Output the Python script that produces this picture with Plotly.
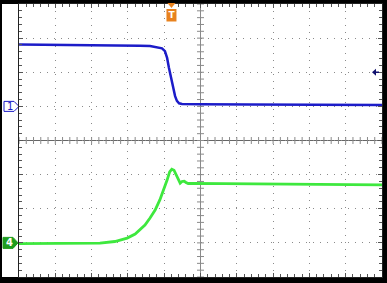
import plotly.graph_objects as go

# ---- data (time and amplitude in screen divisions) ----
ch1_t = [-5.0, -3.87, -2.77, -1.67, -1.39, -1.20, -1.06, -0.98, -0.92, -0.87, -0.81,
         -0.76, -0.70, -0.65, -0.59, -0.51, 0.0, 1.36, 2.74, 4.12, 5.0]
ch1_v = [2.815, 2.81, 2.79, 2.78, 2.77, 2.74, 2.70, 2.62, 2.42, 2.13, 1.83,
         1.54, 1.30, 1.16, 1.09, 1.07, 1.06, 1.056, 1.053, 1.047, 1.04]

ch4_t = [-5.0, -3.87, -2.77, -2.36, -2.02, -1.80, -1.67, -1.53, -1.39, -1.25, -1.12,
         -1.01, -0.92, -0.85, -0.79, -0.73, -0.67, -0.62, -0.56, -0.51, -0.45,
         -0.40, -0.34, -0.23, 0.54, 1.64, 2.74, 3.84, 5.0]
ch4_v = [-3.02, -3.02, -3.01, -2.96, -2.86, -2.74, -2.62, -2.48, -2.27, -2.04, -1.74,
         -1.45, -1.16, -0.92, -0.84, -0.87, -1.01, -1.16, -1.25, -1.20, -1.19,
         -1.23, -1.26, -1.255, -1.26, -1.27, -1.28, -1.29, -1.30]

ch1_ground = 1.0
ch4_ground = -3.0
trigger_t = -0.8
trigger_level = 2.0
marker_labels = ["1", "4"]
trigger_label = "T"

BLUE = "#1c1cc8"
GREEN = "#3ee83e"
GRID = "#8a8a8a"
ORANGE = "#e8821e"

W, H = 387, 283
L, R, T, B = 19, 5, 4, 6
PW, PH = W - L - R, H - T - B


def px(xp):
    return (xp - L) / PW


def py(yp):
    return (H - B - yp) / PH


def dy(yp):  # pixel -> data y (divisions)
    return (H - B - yp) / PH * 8 - 4


fig = go.Figure()

# center-line tick marks
minor = [i * 0.2 for i in range(-25, 26)]
fig.add_trace(go.Scatter(x=minor, y=[0] * len(minor), mode="markers",
                         marker=dict(symbol="line-ns-open", size=5, color=GRID,
                                     line=dict(width=1, color=GRID)),
                         hoverinfo="skip", showlegend=False))
minor_y = [i * 0.2 for i in range(-20, 21)]
fig.add_trace(go.Scatter(x=[0] * len(minor_y), y=minor_y, mode="markers",
                         marker=dict(symbol="line-ew-open", size=5, color=GRID,
                                     line=dict(width=1, color=GRID)),
                         hoverinfo="skip", showlegend=False))

fig.add_trace(go.Scatter(x=ch1_t, y=ch1_v, mode="lines",
                         line=dict(color=BLUE, width=2.5), showlegend=False))
fig.add_trace(go.Scatter(x=ch4_t, y=ch4_v, mode="lines",
                         line=dict(color=GREEN, width=2.8), showlegend=False))

tx = 200.5 + trigger_t * PW / 10
fig.add_trace(go.Scatter(x=[trigger_t], y=[dy(15.5)], mode="text", text=["<b>%s</b>" % trigger_label],
                         textfont=dict(family="DejaVu Sans", size=9, color="white"),
                         cliponaxis=False, hoverinfo="skip", showlegend=False))

shapes = [
    dict(type="rect", xref="paper", yref="paper", x0=px(2), x1=0, y0=0, y1=1,
         fillcolor="white", line=dict(width=0), layer="below"),
    dict(type="line", xref="x", yref="paper", x0=0, x1=0, y0=0, y1=1,
         line=dict(color=GRID, width=1), layer="below"),
    dict(type="line", xref="paper", yref="y", x0=0, x1=1, y0=0, y1=0,
         line=dict(color="#666666", width=1), layer="below"),
]

y1p = 140.5 - ch1_ground * PH / 8
shapes.append(dict(type="path", xref="paper", yref="paper", layer="below",
                   path=f"M {px(4)},{py(y1p-5)} L {px(14)},{py(y1p-5)} L {px(19)},{py(y1p)} "
                        f"L {px(14)},{py(y1p+5)} L {px(4)},{py(y1p+5)} Z",
                   fillcolor="white", line=dict(color=BLUE, width=1)))
y4p = 140.5 - ch4_ground * PH / 8
shapes.append(dict(type="path", xref="paper", yref="paper", layer="below",
                   path=f"M {px(3)},{py(y4p-5.5)} L {px(13)},{py(y4p-5.5)} L {px(18)},{py(y4p)} "
                        f"L {px(13)},{py(y4p+5.5)} L {px(3)},{py(y4p+5.5)} Z",
                   fillcolor="#1f9e1f", line=dict(color="#1f9e1f", width=1)))
shapes.append(dict(type="path", xref="paper", yref="paper",
                   path=f"M {px(tx-4)},{py(3)} L {px(tx+4)},{py(3)} L {px(tx)},{py(8)} Z",
                   fillcolor=ORANGE, line=dict(width=0)))
shapes.append(dict(type="rect", xref="paper", yref="paper", layer="below",
                   x0=px(tx-5), x1=px(tx+5), y0=py(9), y1=py(21.5),
                   fillcolor=ORANGE, line=dict(width=0)))
ty = 140.5 - trigger_level * PH / 8
shapes.append(dict(type="path", xref="paper", yref="paper",
                   path=f"M {px(372)},{py(ty)} L {px(376)},{py(ty-3.5)} L {px(376)},{py(ty+3.5)} Z",
                   fillcolor="#10106e", line=dict(width=0)))
shapes.append(dict(type="line", xref="paper", yref="paper",
                   x0=px(375), x1=px(379), y0=py(ty), y1=py(ty),
                   line=dict(color="#10106e", width=1.5)))

annotations = [
    dict(x=px(9.5), y=ch1_ground, xref="paper", yref="y", text=marker_labels[0],
         showarrow=False, xanchor="center", yanchor="middle",
         font=dict(family="DejaVu Sans", size=10, color=BLUE)),
    dict(x=px(9), y=ch4_ground, xref="paper", yref="y", text="<b>%s</b>" % marker_labels[1],
         showarrow=False, xanchor="center", yanchor="middle",
         font=dict(family="DejaVu Sans", size=10, color="white")),
]

axis_common = dict(showticklabels=False, showgrid=True, gridcolor=GRID,
                   griddash="1px,6px", gridwidth=1, zeroline=False,
                   showline=True, linecolor="#222222", linewidth=1, mirror="ticks",
                   ticks="inside", ticklen=4, tickcolor="#555555", dtick=1,
                   minor=dict(dtick=0.2, ticks="inside", ticklen=3, tickcolor="#555555",
                              showgrid=False))

fig.update_layout(
    width=W, height=H,
    margin=dict(l=L, r=R, t=T, b=B),
    paper_bgcolor="black", plot_bgcolor="white",
    xaxis=dict(range=[-5, 5], **axis_common),
    yaxis=dict(range=[-4, 4], **axis_common),
    shapes=shapes, annotations=annotations,
    showlegend=False,
)

fig.write_html("out.html")
